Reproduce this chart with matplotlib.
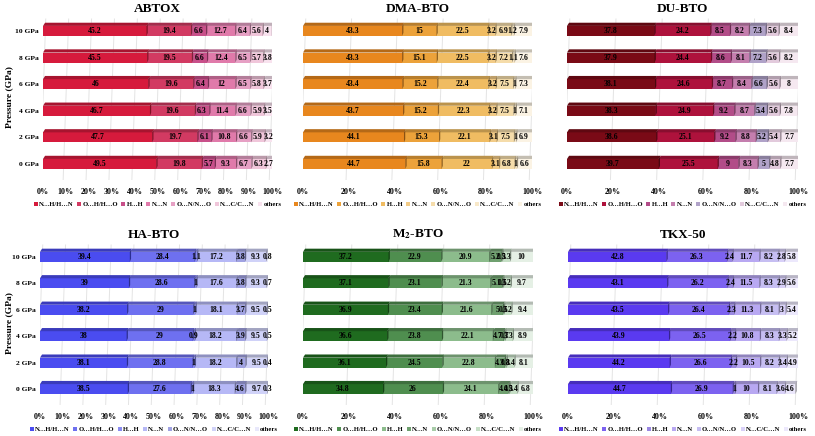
import matplotlib
matplotlib.use("Agg")
import matplotlib.pyplot as plt
from matplotlib.patches import Polygon, Patch
import matplotlib.colors as mcolors
import numpy as np

plt.rcParams["font.family"] = ["Liberation Serif", "DejaVu Serif"]
plt.rcParams["font.weight"] = "bold"
plt.rcParams["mathtext.fontset"] = "stix"

pressures = ['0 GPa', '2 GPa', '4 GPa', '6 GPa', '8 GPa', '10 GPa']
contacts = ['N…H/H…N', 'O…H/H…O', 'H…H', 'N…N', 'O…N/N…O', 'N…C/C…N', 'others']

# rows: 0, 2, 4, 6, 8, 10 GPa
abtox = [[49.5, 19.8, 5.7, 9.3, 6.7, 6.3, 2.7],
         [47.7, 19.7, 6.1, 10.8, 6.6, 5.9, 3.2],
         [46.7, 19.6, 6.3, 11.4, 6.6, 5.9, 3.5],
         [46, 19.6, 6.4, 12, 6.5, 5.8, 3.7],
         [45.5, 19.5, 6.6, 12.4, 6.5, 5.7, 3.8],
         [45.2, 19.4, 6.6, 12.7, 6.4, 5.6, 4]]
dma_bto = [[44.7, 15.8, 22, 3.1, 6.8, 1, 6.6],
           [44.1, 15.3, 22.1, 3.1, 7.5, 1, 6.9],
           [43.7, 15.2, 22.3, 3.2, 7.5, 1, 7.1],
           [43.4, 15.2, 22.4, 3.2, 7.5, 1, 7.3],
           [43.3, 15.1, 22.5, 3.2, 7.2, 1.1, 7.6],
           [43.3, 15, 22.5, 3.2, 6.9, 1.2, 7.9]]
du_bto = [[39.7, 25.5, 9, 8.3, 5, 4.8, 7.7],
          [38.6, 25.1, 9.2, 8.8, 5.2, 5.4, 7.7],
          [38.3, 24.9, 9.2, 8.7, 5.4, 5.6, 7.8],
          [38.1, 24.6, 8.7, 8.4, 6.6, 5.6, 8],
          [37.9, 24.4, 8.6, 8.1, 7.2, 5.6, 8.2],
          [37.8, 24.2, 8.5, 8.2, 7.3, 5.6, 8.4]]
ha_bto = [[38.5, 27.6, 1, 18.3, 4.6, 9.7, 0.3],
          [38.1, 28.8, 1, 18.2, 4, 9.5, 0.4],
          [38, 29, 0.9, 18.2, 3.9, 9.5, 0.5],
          [38.2, 29, 1, 18.1, 3.7, 9.5, 0.5],
          [39, 28.6, 1, 17.6, 3.8, 9.3, 0.7],
          [39.4, 28.4, 1.1, 17.2, 3.8, 9.3, 0.8]]
m2_bto = [[34.8, 26, 24.1, 4.4, 0.5, 3.4, 6.8],
          [36.1, 24.5, 22.8, 4.3, 0.8, 3.4, 8.1],
          [36.6, 23.8, 22.1, 4.7, 0.7, 3.3, 8.9],
          [36.9, 23.4, 21.6, 5, 0.5, 3.2, 9.4],
          [37.1, 23.1, 21.3, 5.1, 0.5, 3.2, 9.7],
          [37.2, 22.9, 20.9, 5.2, 0.5, 3.3, 10]]
tkx_50 = [[44.7, 26.9, 1, 10, 8.1, 3.6, 4.6],
          [44.2, 26.6, 2.2, 10.5, 8.2, 3.4, 4.9],
          [43.9, 26.5, 2.2, 10.8, 8.3, 3.3, 5.2],
          [43.5, 26.4, 2.3, 11.3, 8.1, 3, 5.4],
          [43.1, 26.2, 2.4, 11.5, 8.3, 2.9, 5.6],
          [42.8, 26.3, 2.4, 11.7, 8.2, 2.8, 5.8]]

c_abtox = ['#d61a3c', '#d23a62', '#c8508a', '#e07aaa', '#e6a0c4', '#f0c6da', '#f8e2ee']
c_dma = ['#e8871e', '#eca23a', '#f0bc62', '#f2cb86', '#f5dcaa', '#f8e8c8', '#fbf3e4']
c_du = ['#7a0a16', '#ae123c', '#b24c88', '#c47eae', '#b0a2c8', '#e2cadc', '#f5e8f0']
c_ha = ['#4a4cf0', '#6e70f0', '#8a8cf0', '#b6b8f6', '#a0a2e2', '#d0d2f8', '#e8e8fb']
c_m2 = ['#1f6b1f', '#4f8e4f', '#8cbc8c', '#6fa06f', '#a8cca8', '#c6dfc6', '#e5f0e5']
c_tkx = ['#5a3af0', '#7c62f0', '#9a88e2', '#b8a8f2', '#c6bef2', '#d8d0f8', '#ece8fc']

panels = [
    ('ABTOX', abtox, c_abtox, 10, [43, 272], 'top'),
    ('DMA-BTO', dma_bto, c_dma, 20, [303, 532], 'top'),
    ('DU-BTO', du_bto, c_du, 20, [567, 798], 'top'),
    ('HA-BTO', ha_bto, c_ha, 10, [40, 268], 'bot'),
    (r'M$_\mathbf{2}$-BTO', m2_bto, c_m2, 20, [303, 533], 'bot'),
    ('TKX-50', tkx_50, c_tkx, 20, [568, 798], 'bot'),
]

W, H = 815, 436
fig = plt.figure(figsize=(W / 100, H / 100), dpi=100)

bar_h = 0.38
dep_y = 0.12
dep_x = 0.9


def darker(c, f=0.7):
    r, g, b = mcolors.to_rgb(c)
    return (r * f, g * f, b * f)


for name, data, colors, step, (px0, px1), row in panels:
    if row == 'top':
        bottom, top = 180, 15
    else:
        bottom, top = 405, 241
    ax = fig.add_axes([px0 / W, 1 - bottom / H, (px1 - px0) / W, (bottom - top) / H])
    ax.set_xlim(0, 100)
    ax.set_ylim(-0.6, 5.6)
    for s in ax.spines.values():
        s.set_visible(False)

    # slanted 3D-like grid lines
    for t in np.arange(0, 101, step):
        ax.plot([t - 1.2, t + 1.2], [-0.6, 5.45], color='#e4e4e4', lw=0.7, zorder=0)
    ax.plot([-1.2, 98.8], [-0.6, -0.6], color='#e4e4e4', lw=0.7, zorder=0)

    arr = np.array(data, dtype=float)
    y = np.arange(len(pressures))
    left = np.zeros(len(pressures))
    for j in range(arr.shape[1]):
        w = arr[:, j]
        ax.barh(y, w, left=left, height=bar_h, color=colors[j], edgecolor='none', zorder=2)
        for i in range(len(y)):
            x0, x1 = left[i], left[i] + w[i]
            yt = y[i] + bar_h / 2
            ax.add_patch(Polygon([[x0, yt], [x1, yt], [x1 + dep_x, yt + dep_y], [x0 + dep_x, yt + dep_y]],
                                 closed=True, facecolor=darker(colors[j], 0.78), edgecolor='none', zorder=3))
            yb = y[i] - bar_h / 2
            ax.add_patch(Polygon([[x1, yb], [x1 + dep_x * 0.6, yb + dep_y], [x1 + dep_x * 0.6, yt + dep_y], [x1, yt]],
                                 closed=True, facecolor=darker(colors[j], 0.6), edgecolor='none', zorder=4))
            ax.text(x0 + w[i] / 2, y[i], '{:g}'.format(w[i]), ha='center', va='center',
                    fontsize=5.6, fontweight='bold', color='black', zorder=5)
        left = left + w

    ax.set_xticks(np.arange(0, 101, step))
    ax.set_xticklabels(['{}%'.format(t) for t in np.arange(0, 101, step)], fontsize=5.8, fontweight='bold')
    ax.tick_params(axis='x', length=0, pad=6)
    ax.set_yticks(y)
    if name in ('ABTOX', 'HA-BTO'):
        ax.set_yticklabels(pressures, fontsize=5.4, fontweight='bold')
        ax.set_ylabel('Pressure (GPa)', fontsize=6.8, fontweight='bold')
        ax.yaxis.set_label_coords((13 - px0) / (px1 - px0), 0.5)
    else:
        ax.set_yticklabels([])
    ax.tick_params(axis='y', length=0, pad=3)
    ax.set_title(name, fontsize=9.5, fontweight='bold', pad=1)

    handles = [Patch(facecolor=c, edgecolor='none') for c in colors]
    ax.legend(handles, contacts, loc='upper center', bbox_to_anchor=(0.5, -0.115), ncol=7, frameon=False,
              handlelength=0.6, handleheight=0.6, handletextpad=0.2, columnspacing=0.5,
              borderaxespad=0, prop={'weight': 'bold', 'size': 4.8})

plt.savefig('out.png', dpi=100)
